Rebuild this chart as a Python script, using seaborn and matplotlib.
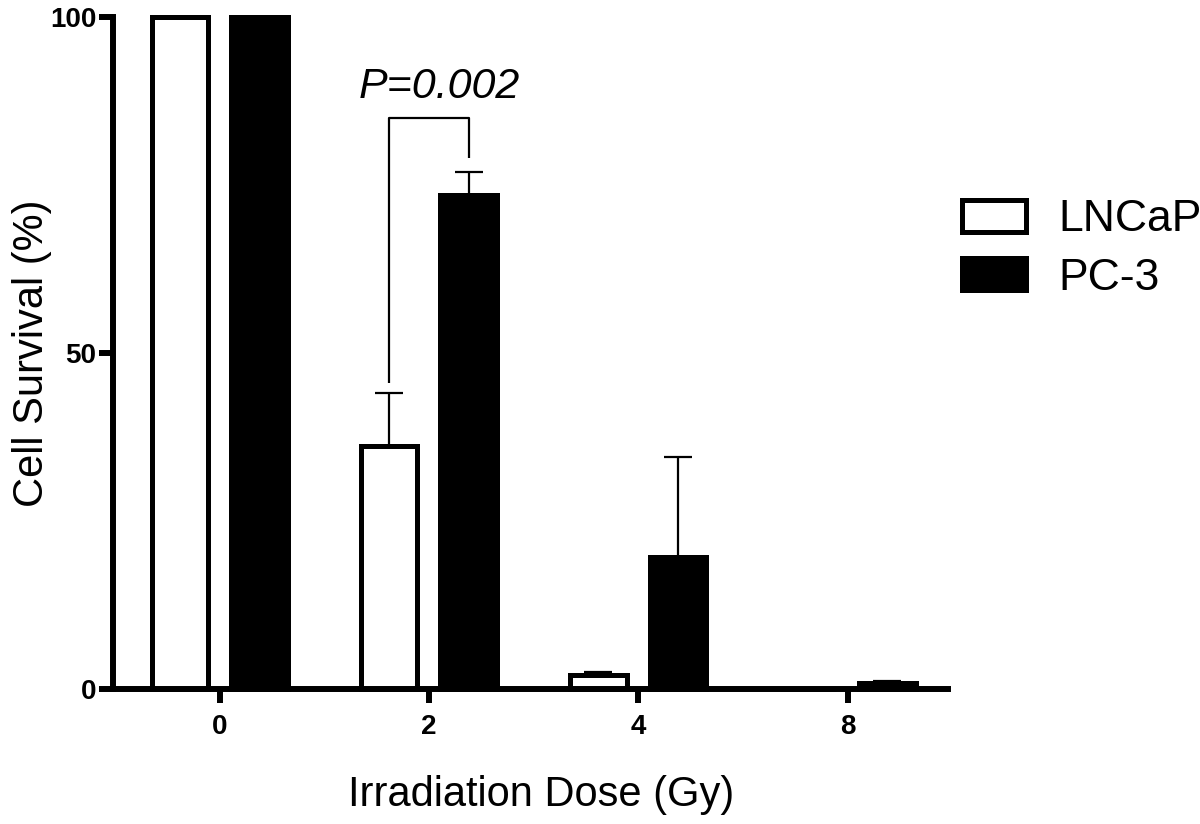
import numpy as np
import pandas as pd
import matplotlib
matplotlib.use("Agg")
import matplotlib.pyplot as plt
import seaborn as sns

# values
doses = ["0", "2", "4", "8"]
lines = ["LNCaP", "PC-3"]
lncap_mean = [100.0, 36.2, 2.0, 0.0]
lncap_sd = [0.0, 7.8, 0.5, 0.0]
pc3_mean = [100.0, 73.6, 19.6, 0.8]
pc3_sd = [0.0, 3.4, 15.0, 0.4]
p_text = "P=0.002"

df = pd.DataFrame({
    "dose": doses * 2,
    "line": [lines[0]] * len(doses) + [lines[1]] * len(doses),
    "survival": lncap_mean + pc3_mean,
})

sns.set_style("ticks", {"axes.edgecolor": "black", "text.color": "black",
                        "xtick.color": "black", "ytick.color": "black",
                        "axes.labelcolor": "black"})
plt.rcParams["font.family"] = ["Liberation Sans", "DejaVu Sans"]

fig = plt.figure(figsize=(12, 8.24), dpi=100)
ax = fig.add_axes([0.094, 0.164, 0.696, 0.815])

sns.barplot(data=df, x="dose", y="survival", hue="line", order=doses,
            hue_order=lines, palette={"LNCaP": "white", "PC-3": "black"},
            errorbar=None, width=0.76, gap=0.29, edgecolor="black",
            linewidth=3.6, ax=ax)

# error bars (upper half only, like the original)
for cont, sds in zip(ax.containers, [lncap_sd, pc3_sd]):
    for bar, sd in zip(cont, sds):
        bar.set_clip_on(False)
        if sd <= 0:
            continue
        xc = bar.get_x() + bar.get_width() / 2
        top = bar.get_height()
        ax.errorbar(xc, top, yerr=[[0], [sd]], fmt="none", ecolor="black",
                    elinewidth=1.6, capsize=10, capthick=1.6, clip_on=False,
                    zorder=1)

# significance bracket between the two bars at 2 Gy
b_l = ax.containers[0][1]
b_r = ax.containers[1][1]
xl = b_l.get_x() + b_l.get_width() / 2
xr = b_r.get_x() + b_r.get_width() / 2
ax.plot([xl, xl, xr, xr], [45.5, 85, 85, 79], color="black", lw=1.6,
        solid_capstyle="butt")
ax.text((xl + xr) / 2 + 0.05, 88, p_text, ha="center", va="baseline",
        fontsize=31, style="italic", color="black")

ax.set_xlim(-0.51, 3.48)
ax.set_ylim(0, 100)
ax.set_yticks([0, 50, 100])
ax.set_yticklabels(["0", "50", "100"])
sns.despine(ax=ax)
for side in ["left", "bottom"]:
    ax.spines[side].set_linewidth(4.3)
    ax.spines[side].set_color("black")
ax.tick_params(axis="both", width=4.3, length=10, labelsize=20,
               color="black", labelcolor="black")
ax.tick_params(axis="y", pad=2)
ax.tick_params(axis="x", pad=8)
for lab in ax.get_xticklabels() + ax.get_yticklabels():
    lab.set_fontweight("bold")

ax.set_xlabel("Irradiation Dose (Gy)", fontsize=30, color="black")
ax.set_ylabel("Cell Survival (%)", fontsize=30, color="black")
ax.xaxis.set_label_coords(0.513, -0.128)
ax.yaxis.set_label_coords(-0.073, 0.5)

sns.move_legend(ax, loc="upper left", bbox_to_anchor=(0.802, 0.758),
                bbox_transform=fig.transFigure, frameon=False, title=None,
                fontsize=32, borderpad=0, borderaxespad=0,
                handlelength=1.43, handleheight=0.73, handletextpad=0.73,
                labelspacing=0.39)
for t in ax.get_legend().get_texts():
    t.set_color("black")

fig.savefig("out.png", dpi=100)
